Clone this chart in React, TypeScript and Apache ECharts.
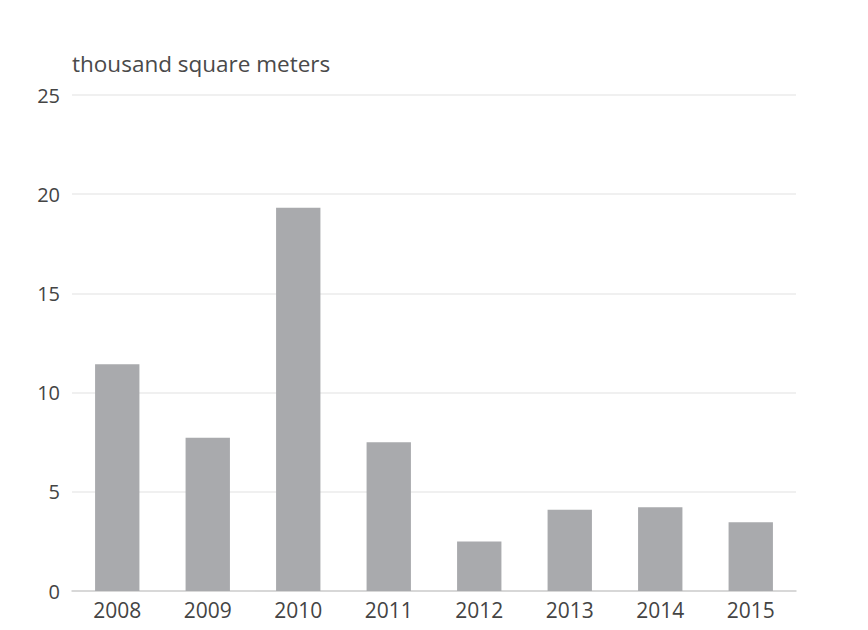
import React, { useEffect, useRef } from "react";
import * as echarts from "echarts";

const categories = ["2008", "2009", "2010", "2011", "2012", "2013", "2014", "2015"];
const values = [11.43, 7.72, 19.32, 7.5, 2.5, 4.1, 4.22, 3.47];
const yTicks = [0, 5, 10, 15, 20, 25];
const unitLabel = "thousand square meters";

export default function App() {
  const ref = useRef<HTMLDivElement>(null);
  useEffect(() => {
    if (!ref.current) return;
    const chart = echarts.init(ref.current, undefined, { renderer: "svg" });
    chart.setOption({
      animation: false,
      backgroundColor: "#ffffff",
      textStyle: { fontFamily: "Open Sans" },
      title: {
        text: unitLabel,
        left: 67,
        top: 47,
        textStyle: { fontSize: 22.5, fontWeight: "normal", color: "#4a4a4a", fontFamily: "Open Sans" },
      },
      grid: { left: 72, right: 72, top: 95, bottom: 39, containLabel: false },
      xAxis: {
        type: "category",
        data: categories,
        axisLine: { show: true, lineStyle: { color: "#cfcfcf", width: 1.5 } },
        axisTick: { show: false },
        axisLabel: { color: "#444444", fontSize: 21, margin: 8, fontFamily: "Open Sans" },
      },
      yAxis: {
        type: "value",
        min: yTicks[0],
        max: yTicks[yTicks.length - 1],
        interval: 5,
        axisLine: { show: false },
        axisTick: { show: false },
        splitLine: { lineStyle: { color: "#ebebeb", width: 1.5 } },
        axisLabel: { color: "#444444", fontSize: 20, margin: 12, fontFamily: "Open Sans" },
      },
      series: [
        {
          type: "bar",
          data: values,
          barWidth: "49%",
          itemStyle: { color: "#a9aaad" },
        },
      ],
    });
    return () => chart.dispose();
  }, []);
  return (
    <div
      ref={ref}
      style={{ position: "fixed", left: 0, top: 0, width: 868, height: 630 }}
    />
  );
}
